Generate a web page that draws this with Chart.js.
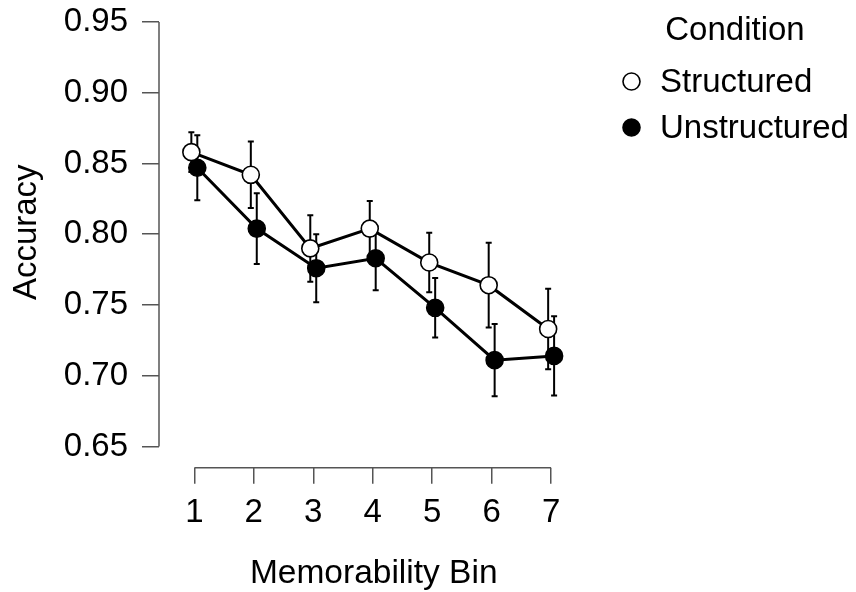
<!DOCTYPE html>
<html>
<head>
<meta charset="utf-8">
<script src="https://cdn.jsdelivr.net/npm/chart.js@4/dist/chart.umd.min.js"></script>
<style>
  html, body { margin: 0; padding: 0; background: #fff; }
  #wrap { width: 856px; height: 592px; }
</style>
</head>
<body>
<div id="wrap"><canvas id="c" width="856" height="592"></canvas></div>
<script>
// ---- data ----
const bins = [1, 2, 3, 4, 5, 6, 7];
const xTickLabels = ['1', '2', '3', '4', '5', '6', '7'];
const yTickValues = [0.65, 0.70, 0.75, 0.80, 0.85, 0.90, 0.95];
const yTickLabels = ['0.65', '0.70', '0.75', '0.80', '0.85', '0.90', '0.95'];
const seriesNames = ['Structured', 'Unstructured'];
const structuredMean = [0.858, 0.842, 0.790, 0.804, 0.780, 0.764, 0.733];
const structuredErr  = [0.014, 0.0235, 0.0235, 0.0195, 0.021, 0.030, 0.0285];
const unstructuredMean = [0.847, 0.804, 0.776, 0.783, 0.748, 0.711, 0.714];
const unstructuredErr  = [0.023, 0.025, 0.024, 0.0225, 0.021, 0.0255, 0.028];
const legendTitle = 'Condition';
const xTitle = 'Memorability Bin';
const yTitle = 'Accuracy';

// ---- style ----
const FONT = '"Liberation Sans", Arial, sans-serif';
const DODGE = 0.05;
const AXIS_COLOR = '#555555';

const means = [structuredMean, unstructuredMean];
const errs = [structuredErr, unstructuredErr];
const fills = ['#ffffff', '#000000'];
const offsets = [-DODGE, DODGE];

const datasets = seriesNames.map((name, s) => ({
  label: name,
  data: bins.map((b, i) => ({ x: b + offsets[s], y: means[s][i] })),
  err: errs[s],
  mean: means[s],
  borderColor: '#000',
  borderWidth: 3,
  pointRadius: 8.5,
  pointHoverRadius: 8.5,
  pointBackgroundColor: fills[s],
  pointBorderColor: '#000',
  pointBorderWidth: 1.6,
  fill: false,
  tension: 0
}));

const decor = {
  id: 'decor',
  beforeDatasetsDraw(chart) {
    const ctx = chart.ctx, xs = chart.scales.x, ys = chart.scales.y;
    ctx.save();
    ctx.strokeStyle = AXIS_COLOR;
    ctx.lineWidth = 1.5;
    ctx.beginPath();
    const L = chart.chartArea.left, B = chart.chartArea.bottom;
    ctx.moveTo(L, ys.getPixelForValue(yTickValues[0]));
    ctx.lineTo(L, ys.getPixelForValue(yTickValues[yTickValues.length - 1]));
    ctx.moveTo(xs.getPixelForValue(bins[0]), B);
    ctx.lineTo(xs.getPixelForValue(bins[bins.length - 1]), B);
    ctx.stroke();
    ctx.strokeStyle = '#000';
    ctx.lineWidth = 2;
    chart.data.datasets.forEach(ds => {
      ds.data.forEach((p, i) => {
        const x = xs.getPixelForValue(p.x);
        const yt = ys.getPixelForValue(ds.mean[i] + ds.err[i]);
        const yb = ys.getPixelForValue(ds.mean[i] - ds.err[i]);
        ctx.beginPath();
        ctx.moveTo(x, yt); ctx.lineTo(x, yb);
        ctx.moveTo(x - 3, yt); ctx.lineTo(x + 3, yt);
        ctx.moveTo(x - 3, yb); ctx.lineTo(x + 3, yb);
        ctx.stroke();
      });
    });
    ctx.restore();
  },
  afterDraw(chart) {
    const ctx = chart.ctx, xs = chart.scales.x, ys = chart.scales.y;
    ctx.save();
    ctx.fillStyle = '#000';
    ctx.font = '33.5px ' + FONT;
    ctx.textAlign = 'center';
    ctx.textBaseline = 'alphabetic';
    const xc = (xs.getPixelForValue(bins[0]) + xs.getPixelForValue(bins[bins.length - 1])) / 2;
    ctx.fillText(xTitle, xc + 1, 583);
    const yc = (ys.getPixelForValue(yTickValues[0]) + ys.getPixelForValue(yTickValues[yTickValues.length - 1])) / 2;
    ctx.save();
    ctx.translate(36, yc - 2);
    ctx.rotate(-Math.PI / 2);
    ctx.font = '33px ' + FONT;
    ctx.fillText(yTitle, 0, 0);
    ctx.restore();
    ctx.font = '33px ' + FONT;
    ctx.textAlign = 'center';
    ctx.fillText(legendTitle, 735, 40);
    ctx.textAlign = 'left';
    const rows = [92, 138];
    seriesNames.forEach((name, s) => {
      const by = rows[s];
      ctx.beginPath();
      ctx.arc(631.5, by - 10.5, 8.5, 0, Math.PI * 2);
      ctx.fillStyle = fills[s];
      ctx.fill();
      ctx.lineWidth = 1.6;
      ctx.strokeStyle = '#000';
      ctx.stroke();
      ctx.fillStyle = '#000';
      ctx.fillText(name, 660, by);
    });
    ctx.restore();
  }
};

new Chart(document.getElementById('c'), {
  type: 'line',
  data: { datasets },
  plugins: [decor],
  options: {
    responsive: false,
    animation: false,
    devicePixelRatio: 1,
    layout: { padding: { top: 22, right: 290, bottom: 0, left: 0 } },
    plugins: { legend: { display: false }, tooltip: { enabled: false }, title: { display: false } },
    scales: {
      x: {
        type: 'linear',
        min: 0.406, max: 7.25,
        border: { display: false },
        grid: { drawOnChartArea: false, drawTicks: true, tickLength: 16, color: AXIS_COLOR, lineWidth: 1.5 },
        afterBuildTicks(scale) { scale.ticks = bins.map(v => ({ value: v })); },
        afterFit(scale) { scale.height = 124.3; scale.paddingLeft = 0; scale.paddingRight = 0; },
        ticks: {
          autoSkip: false, maxRotation: 0,
          color: '#000', font: { family: FONT, size: 33 }, padding: 9,
          callback: (v) => xTickLabels[bins.indexOf(v)] ?? ''
        }
      },
      y: {
        type: 'linear',
        min: 0.635, max: 0.95,
        border: { display: false },
        grid: { drawOnChartArea: false, drawTicks: true, tickLength: 17, color: AXIS_COLOR, lineWidth: 1.5 },
        afterBuildTicks(scale) { scale.ticks = yTickValues.map(v => ({ value: v })); },
        afterFit(scale) { scale.width = 159; scale.paddingTop = 0; scale.paddingBottom = 0; },
        ticks: {
          color: '#000', font: { family: FONT, size: 33 }, padding: 14,
          callback: (v) => { const i = yTickValues.findIndex(t => Math.abs(t - v) < 1e-9); return i >= 0 ? yTickLabels[i] : ''; }
        }
      }
    }
  }
});
</script>
</body>
</html>
